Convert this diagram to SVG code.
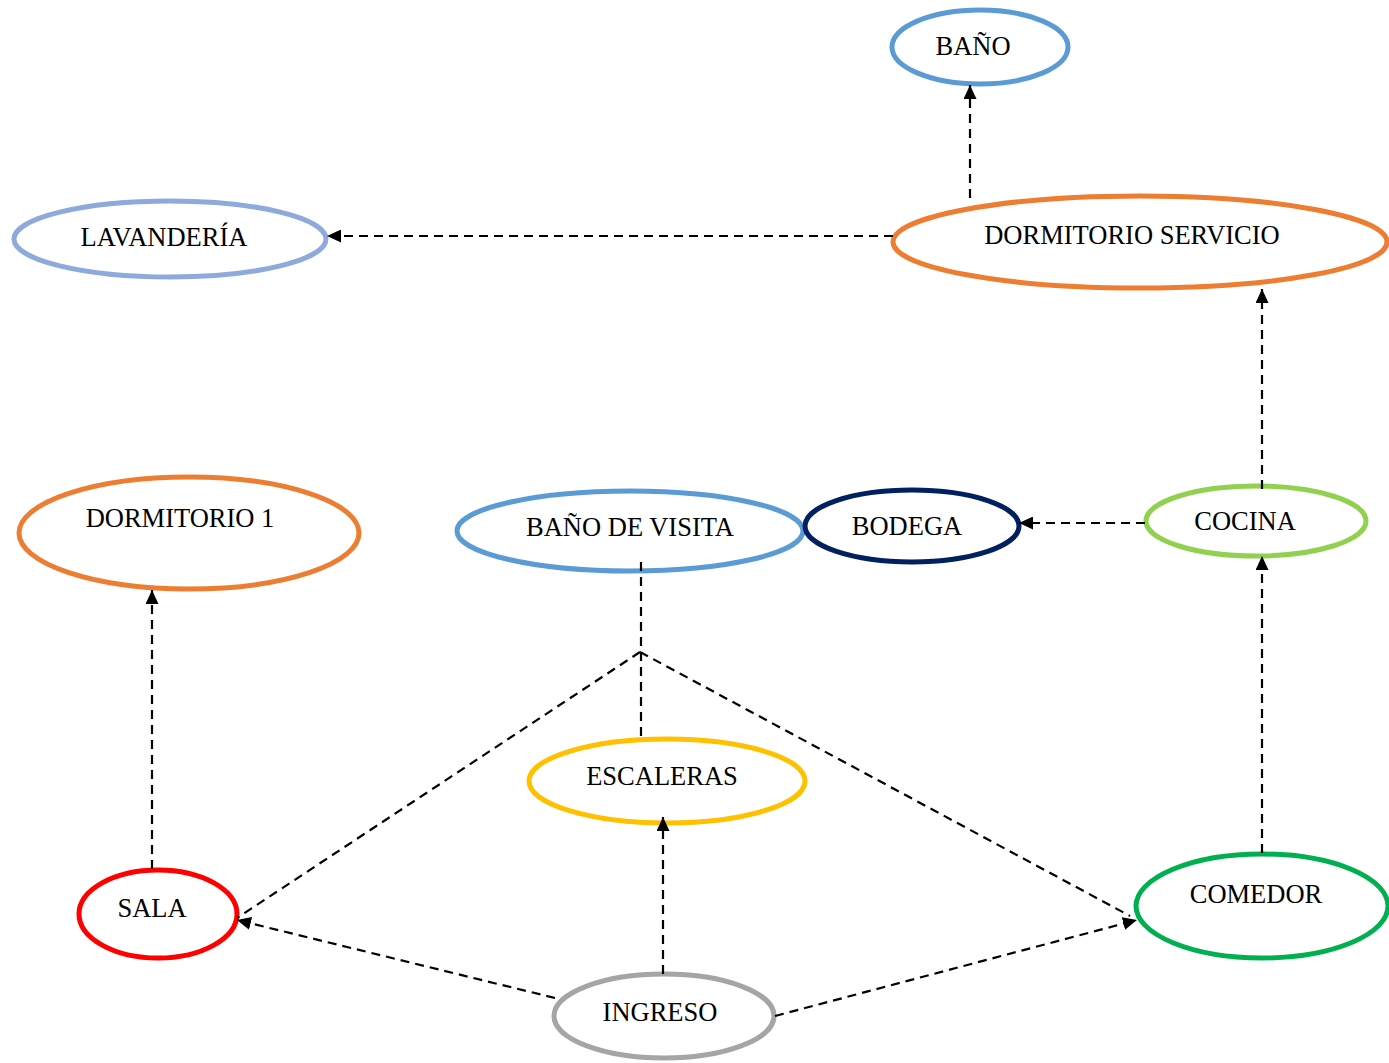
<svg xmlns="http://www.w3.org/2000/svg" width="1389" height="1063" viewBox="0 0 1389 1063">
<style>
.n{fill:#fff;stroke-width:5}
.t{font-family:"Liberation Serif","Times New Roman",serif;font-size:26.5px;fill:#000;text-anchor:middle}
.c{fill:none;stroke:#000;stroke-width:2.2;stroke-dasharray:9,6}
</style>
<defs>
<marker id="a" markerWidth="14" markerHeight="13" viewBox="0 0 14 13" refX="14" refY="6.5" orient="auto" markerUnits="userSpaceOnUse">
<path d="M0,0 L14,6.5 L0,13 z" fill="#000"/>
</marker>
</defs>
<rect width="1389" height="1063" fill="#fff"/>
<g id="bano"><ellipse class="n" cx="980" cy="47" rx="88" ry="37" stroke="#5B9BD5"/><text class="t" x="973" y="55">BAÑO</text></g>
<g id="dormitorio-servicio"><ellipse class="n" cx="1140" cy="242" rx="247" ry="46" stroke="#ED7D31"/><text class="t" x="1132" y="244">DORMITORIO SERVICIO</text></g>
<g id="lavanderia"><ellipse class="n" cx="170" cy="239" rx="156" ry="38" stroke="#8EA9DB"/><text class="t" x="164" y="246">LAVANDERÍA</text></g>
<g id="dormitorio-1"><ellipse class="n" cx="189" cy="533" rx="170" ry="56" stroke="#ED7D31"/><text class="t" x="180" y="527">DORMITORIO 1</text></g>
<g id="bano-visita"><ellipse class="n" cx="630" cy="531" rx="173" ry="40" stroke="#5B9BD5"/><text class="t" x="630" y="536">BAÑO DE VISITA</text></g>
<g id="bodega"><ellipse class="n" cx="912" cy="526" rx="107" ry="36" stroke="#002060"/><text class="t" x="907" y="535">BODEGA</text></g>
<g id="cocina"><ellipse class="n" cx="1256" cy="521" rx="110" ry="35" stroke="#92D050"/><text class="t" x="1245" y="530">COCINA</text></g>
<g id="escaleras"><ellipse class="n" cx="667" cy="781" rx="138" ry="42" stroke="#FFC000"/><text class="t" x="662" y="785">ESCALERAS</text></g>
<g id="sala"><ellipse class="n" cx="158" cy="914" rx="79" ry="44" stroke="#FF0000"/><text class="t" x="152" y="917">SALA</text></g>
<g id="comedor"><ellipse class="n" cx="1262" cy="906" rx="126" ry="52" stroke="#00B050"/><text class="t" x="1256" y="903">COMEDOR</text></g>
<g id="ingreso"><ellipse class="n" cx="664" cy="1016" rx="110" ry="42" stroke="#A5A5A5"/><text class="t" x="660" y="1021">INGRESO</text></g>
<g id="connectors">
<line class="c" x1="970" y1="198" x2="970" y2="85" marker-end="url(#a)"/>
<line class="c" x1="893" y1="236" x2="327" y2="236" marker-end="url(#a)"/>
<line class="c" x1="1262" y1="489" x2="1262" y2="289" marker-end="url(#a)"/>
<line class="c" x1="1145" y1="523" x2="1019" y2="523" marker-end="url(#a)"/>
<line class="c" x1="1262" y1="853" x2="1262" y2="556" marker-end="url(#a)"/>
<line class="c" x1="152" y1="869" x2="152" y2="590" marker-end="url(#a)"/>
<line class="c" x1="663" y1="974" x2="663" y2="817" marker-end="url(#a)"/>
<line class="c" x1="555" y1="998" x2="237" y2="920" marker-end="url(#a)"/>
<line class="c" x1="775" y1="1016" x2="1137" y2="920" marker-end="url(#a)"/>
<line class="c" x1="641" y1="562" x2="641" y2="740"/>
<line class="c" x1="640" y1="652" x2="237" y2="918"/>
<line class="c" x1="640" y1="652" x2="1130" y2="916"/>
</g>
</svg>
